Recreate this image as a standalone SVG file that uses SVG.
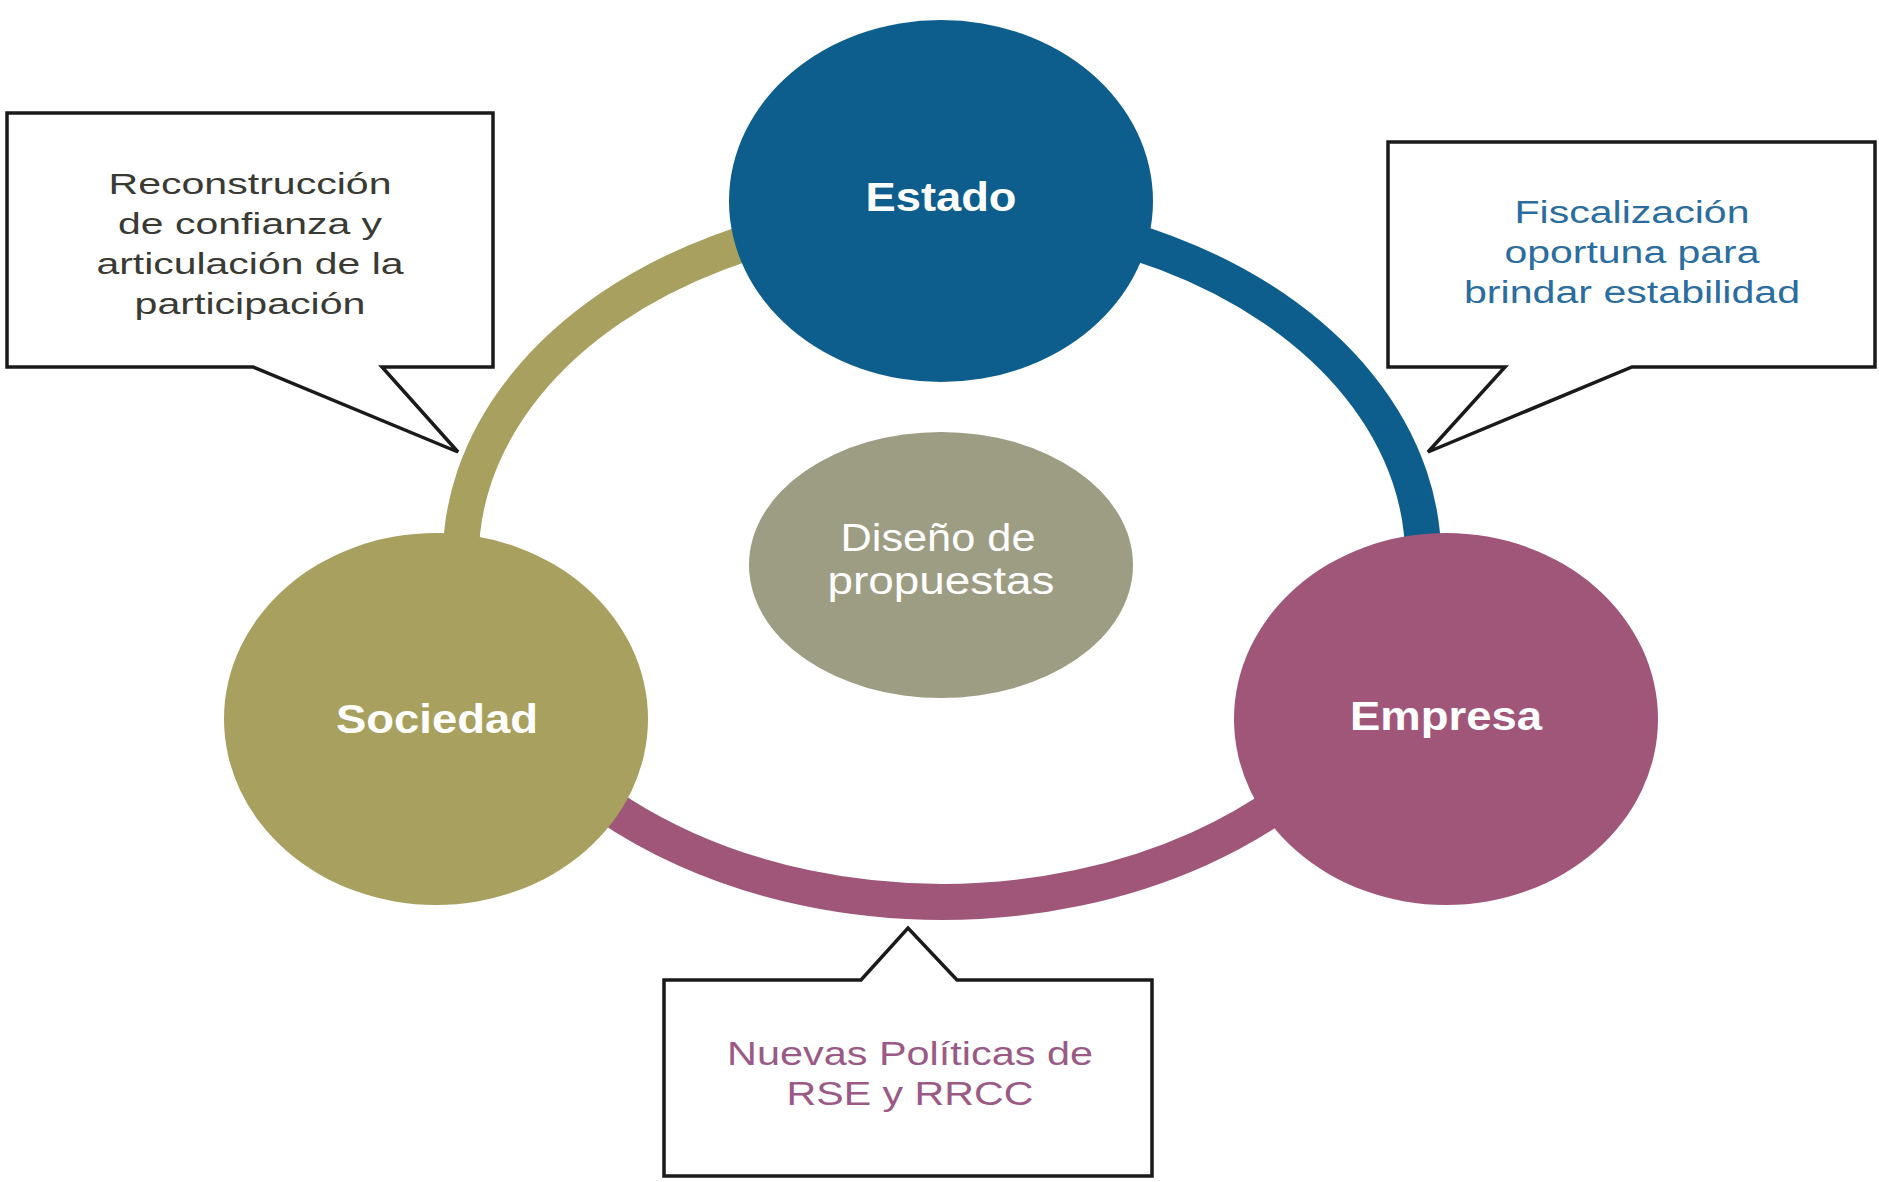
<svg xmlns="http://www.w3.org/2000/svg" width="1879" height="1182" viewBox="0 0 1879 1182">
<style>
.ring{fill:none;stroke-width:36}
.node-text{font-family:"Liberation Sans",Arial,sans-serif;font-weight:bold;font-size:41px;fill:#ffffff;text-anchor:middle}
.center-text{font-family:"Liberation Sans",Arial,sans-serif;font-size:38px;fill:#ffffff;text-anchor:middle}
.callout{fill:#ffffff;stroke:#1a1a1a;stroke-width:3.5;stroke-linejoin:miter}
.ct{font-family:"Liberation Sans",Arial,sans-serif;text-anchor:middle}
</style>
<rect width="1879" height="1182" fill="#ffffff"/>
<g id="connectors">
  <path class="ring" stroke="#a8a05e" d="M525,730 A482,345 0 0 1 942,213"/>
  <path class="ring" stroke="#0d5e8c" d="M942,213 A482,345 0 0 1 1359,730"/>
  <path class="ring" stroke="#9f5679" stroke-width="34" d="M1359,730 A482,345 0 0 1 525,730"/>
</g>
<g id="node-estado">
  <ellipse cx="941" cy="201" rx="212" ry="181" fill="#0d5e8c"/>
  <text class="node-text" x="941" y="211" textLength="151" lengthAdjust="spacingAndGlyphs">Estado</text>
</g>
<g id="node-sociedad">
  <ellipse cx="436" cy="719" rx="212" ry="186" fill="#a8a05e"/>
  <text class="node-text" x="437" y="733" textLength="202" lengthAdjust="spacingAndGlyphs">Sociedad</text>
</g>
<g id="node-empresa">
  <ellipse cx="1446" cy="719" rx="212" ry="186" fill="#9f5679"/>
  <text class="node-text" x="1446" y="730" textLength="192" lengthAdjust="spacingAndGlyphs">Empresa</text>
</g>
<g id="node-diseno">
  <ellipse cx="941" cy="565" rx="192" ry="133" fill="#9d9d84"/>
  <text class="center-text" x="938" y="551" textLength="195" lengthAdjust="spacingAndGlyphs">Diseño de</text>
  <text class="center-text" x="941" y="594" textLength="227" lengthAdjust="spacingAndGlyphs">propuestas</text>
</g>
<g id="callout-reconstruccion">
  <path class="callout" d="M7,113 H493 V367 H382 L458,452 L253,367 H7 Z"/>
  <g class="ct" font-size="30" fill="#3a3a34">
    <text x="250" y="194" textLength="283" lengthAdjust="spacingAndGlyphs">Reconstrucción</text>
    <text x="250" y="234" textLength="264" lengthAdjust="spacingAndGlyphs">de confianza y</text>
    <text x="250" y="274" textLength="307" lengthAdjust="spacingAndGlyphs">articulación de la</text>
    <text x="250" y="314" textLength="231" lengthAdjust="spacingAndGlyphs">participación</text>
  </g>
</g>
<g id="callout-fiscalizacion">
  <path class="callout" d="M1388,142 H1875 V367 H1632 L1428,452 L1505,367 H1388 Z"/>
  <g class="ct" font-size="31" fill="#2a6d9e">
    <text x="1632" y="223" textLength="235" lengthAdjust="spacingAndGlyphs">Fiscalización</text>
    <text x="1632" y="263" textLength="255" lengthAdjust="spacingAndGlyphs">oportuna para</text>
    <text x="1632" y="303" textLength="336" lengthAdjust="spacingAndGlyphs">brindar estabilidad</text>
  </g>
</g>
<g id="callout-politicas">
  <path class="callout" d="M664,980 H861 L908,928 L957,980 H1152 V1176 H664 Z"/>
  <g class="ct" font-size="33" fill="#9a5a85">
    <text x="910" y="1065" textLength="366" lengthAdjust="spacingAndGlyphs">Nuevas Políticas de</text>
    <text x="910" y="1105" textLength="247" lengthAdjust="spacingAndGlyphs">RSE y RRCC</text>
  </g>
</g>
</svg>
